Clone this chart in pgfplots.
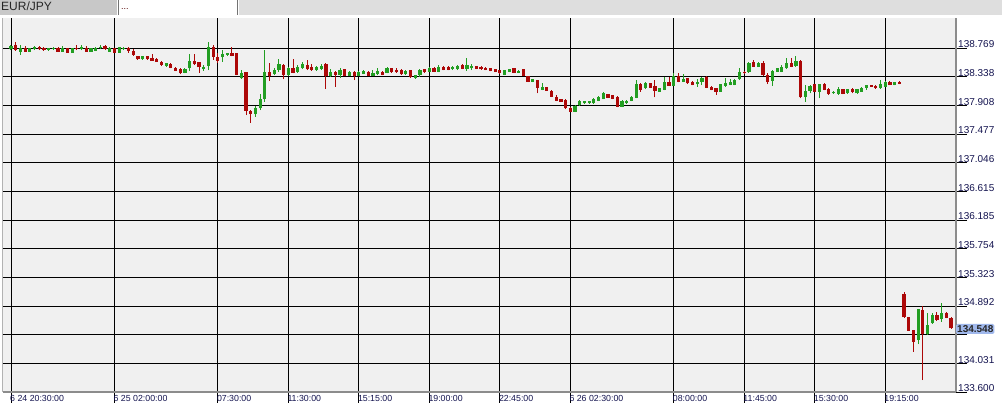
\documentclass[border=0pt]{standalone}
\usepackage{fontspec}
\setmainfont{Liberation Sans}
\usepackage{pgfplots}
\usepackage{pgfplotstable}
\pgfplotsset{compat=1.18}
\definecolor{bgc}{RGB}{240,240,240}
\definecolor{upc}{RGB}{34,158,34}
\definecolor{dnc}{RGB}{172,8,8}
\definecolor{lblc}{RGB}{20,20,80}
\definecolor{tabg}{RGB}{200,200,200}
\definecolor{tabr}{RGB}{222,222,222}
\definecolor{hl}{RGB}{160,184,236}

\pgfplotstableread{
x o h l c
0 138.749 138.814 138.739 138.804
2 138.714 138.814 138.664 138.764
4 138.714 138.774 138.709 138.764
5 138.749 138.804 138.739 138.779
8 138.739 138.774 138.729 138.764
9 138.749 138.789 138.739 138.774
11 138.714 138.804 138.709 138.774
13 138.699 138.774 138.694 138.764
15 138.749 138.814 138.739 138.789
17 138.714 138.774 138.709 138.764
18 138.729 138.789 138.724 138.774
19 138.764 138.814 138.749 138.789
21 138.714 138.789 138.709 138.764
23 138.699 138.789 138.694 138.779
24 138.749 138.789 138.739 138.774
28 138.599 138.654 138.594 138.649
33 138.498 138.544 138.488 138.539
37 138.398 138.463 138.388 138.453
38 138.463 138.674 138.428 138.574
41 138.448 138.514 138.428 138.488
42 138.503 138.854 138.438 138.789
45 138.629 138.739 138.564 138.679
46 138.664 138.699 138.654 138.689
49 138.313 138.438 138.308 138.388
52 137.777 137.897 137.737 137.872
53 137.862 138.077 137.837 138.002
54 137.997 138.739 137.962 138.413
56 138.378 138.463 138.363 138.438
57 138.438 138.599 138.413 138.524
59 138.363 138.478 138.353 138.473
61 138.413 138.514 138.398 138.488
62 138.463 138.564 138.448 138.524
65 138.438 138.498 138.428 138.488
66 138.448 138.524 138.438 138.503
68 138.348 138.448 138.338 138.413
70 138.363 138.463 138.323 138.438
72 138.348 138.423 138.343 138.413
74 138.353 138.428 138.348 138.413
75 138.378 138.438 138.373 138.428
77 138.353 138.438 138.348 138.398
78 138.373 138.463 138.363 138.423
80 138.398 138.488 138.388 138.473
84 138.373 138.438 138.368 138.428
86 138.313 138.368 138.308 138.363
87 138.363 138.453 138.338 138.438
89 138.413 138.478 138.408 138.473
91 138.413 138.514 138.408 138.488
94 138.448 138.498 138.438 138.488
95 138.448 138.513 138.438 138.498
97 138.453 138.614 138.428 138.513
98 138.463 138.528 138.438 138.498
105 138.363 138.443 138.358 138.438
106 138.413 138.458 138.408 138.453
108 138.398 138.433 138.393 138.428
111 138.263 138.303 138.258 138.298
113 138.138 138.238 138.133 138.188
120 137.812 137.907 137.807 137.902
121 137.912 137.987 137.897 137.972
122 137.937 137.977 137.932 137.972
123 137.937 137.977 137.932 137.972
124 137.937 138.012 137.932 137.997
125 137.977 138.042 137.972 138.037
126 138.002 138.103 137.997 138.088
130 137.887 137.982 137.882 137.977
131 137.937 137.982 137.932 137.977
132 137.972 138.042 137.967 138.037
133 138.022 138.288 138.012 138.223
135 138.163 138.263 138.148 138.238
138 138.113 138.168 138.108 138.163
139 138.138 138.338 138.133 138.263
141 138.203 138.388 138.198 138.348
143 138.263 138.373 138.258 138.303
146 138.223 138.298 138.188 138.263
147 138.263 138.338 138.213 138.323
151 138.113 138.228 138.108 138.223
152 138.203 138.313 138.188 138.238
153 138.213 138.298 138.208 138.253
154 138.213 138.303 138.208 138.288
155 138.298 138.463 138.288 138.413
157 138.403 138.563 138.398 138.548
159 138.488 138.553 138.483 138.548
162 138.278 138.438 138.203 138.423
163 138.413 138.468 138.408 138.463
164 138.413 138.513 138.408 138.488
165 138.463 138.614 138.453 138.548
167 138.498 138.649 138.488 138.578
169 138.027 138.213 137.962 138.128
170 138.128 138.213 138.088 138.203
172 138.113 138.228 138.012 138.223
175 138.088 138.118 138.083 138.113
176 138.078 138.188 138.063 138.148
178 138.088 138.153 138.083 138.148
180 138.088 138.153 138.083 138.148
181 138.113 138.178 138.108 138.173
182 138.173 138.218 138.138 138.213
185 138.163 138.288 138.158 138.223
186 138.188 138.268 138.183 138.263
188 138.213 138.258 138.208 138.253
193 134.381 134.852 134.321 134.842
195 134.472 134.782 134.457 134.607
196 134.632 134.782 134.622 134.757
198 134.692 134.942 134.657 134.792
}\upT

\pgfplotstableread{
x o h l c
1 138.814 138.854 138.729 138.739
3 138.764 138.799 138.709 138.714
6 138.789 138.799 138.739 138.749
7 138.774 138.789 138.729 138.739
10 138.764 138.789 138.709 138.714
12 138.764 138.774 138.694 138.699
14 138.774 138.814 138.739 138.749
16 138.774 138.799 138.709 138.714
20 138.804 138.814 138.739 138.749
22 138.764 138.774 138.694 138.699
25 138.774 138.779 138.699 138.729
26 138.729 138.749 138.649 138.664
27 138.649 138.654 138.594 138.599
29 138.649 138.654 138.594 138.599
30 138.614 138.679 138.574 138.579
31 138.604 138.614 138.559 138.564
32 138.564 138.569 138.498 138.514
34 138.524 138.539 138.463 138.473
35 138.473 138.478 138.423 138.428
36 138.453 138.463 138.378 138.388
39 138.574 138.679 138.514 138.524
40 138.554 138.564 138.398 138.478
43 138.789 138.814 138.589 138.639
44 138.639 138.689 138.539 138.574
47 138.689 138.789 138.644 138.649
48 138.689 138.694 138.358 138.363
50 138.403 138.413 137.762 137.827
51 137.827 137.837 137.647 137.777
55 138.413 138.548 138.278 138.353
58 138.514 138.528 138.298 138.363
60 138.473 138.604 138.388 138.398
63 138.514 138.589 138.438 138.448
64 138.488 138.524 138.428 138.438
67 138.524 138.539 138.153 138.353
69 138.413 138.418 138.188 138.363
71 138.448 138.453 138.343 138.348
73 138.413 138.418 138.288 138.348
76 138.413 138.423 138.348 138.353
79 138.413 138.423 138.358 138.363
81 138.463 138.473 138.398 138.403
82 138.438 138.463 138.398 138.403
83 138.438 138.448 138.368 138.373
85 138.438 138.443 138.323 138.328
88 138.448 138.453 138.398 138.403
90 138.473 138.478 138.408 138.413
92 138.488 138.493 138.433 138.438
93 138.488 138.493 138.433 138.438
96 138.513 138.523 138.448 138.453
99 138.498 138.503 138.448 138.453
100 138.488 138.493 138.443 138.448
101 138.473 138.478 138.433 138.438
102 138.463 138.468 138.418 138.423
103 138.453 138.458 138.408 138.413
104 138.438 138.443 138.383 138.388
107 138.463 138.468 138.393 138.398
109 138.448 138.453 138.348 138.353
110 138.348 138.353 138.258 138.263
112 138.288 138.293 138.088 138.173
114 138.178 138.183 138.123 138.128
115 138.128 138.133 138.032 138.037
116 138.037 138.063 137.972 137.977
117 138.002 138.007 137.957 137.962
118 137.987 138.002 137.852 137.862
119 137.872 137.877 137.807 137.812
127 138.073 138.078 138.017 138.022
128 138.063 138.068 137.997 138.002
129 138.037 138.042 137.877 137.887
134 138.223 138.248 138.113 138.138
136 138.238 138.243 138.168 138.173
137 138.203 138.288 138.027 138.123
140 138.263 138.338 138.198 138.203
142 138.348 138.388 138.253 138.263
144 138.313 138.318 138.233 138.238
145 138.263 138.268 138.208 138.213
148 138.338 138.348 138.168 138.173
149 138.188 138.193 138.133 138.138
150 138.163 138.168 138.063 138.113
156 138.413 138.418 138.383 138.388
158 138.563 138.589 138.483 138.488
160 138.548 138.573 138.353 138.363
161 138.363 138.388 138.228 138.263
166 138.548 138.614 138.483 138.488
168 138.578 138.583 138.012 138.027
171 138.223 138.228 138.108 138.113
173 138.223 138.238 138.133 138.138
174 138.148 138.163 138.063 138.078
177 138.148 138.153 138.073 138.078
179 138.148 138.163 138.088 138.113
183 138.213 138.218 138.183 138.188
184 138.203 138.208 138.158 138.163
187 138.263 138.268 138.208 138.213
189 138.263 138.268 138.223 138.228
190 135.073 135.108 134.717 134.722
191 134.722 134.727 134.517 134.522
192 134.532 134.537 134.206 134.356
194 134.832 134.897 133.780 134.472
197 134.757 134.807 134.672 134.682
199 134.792 134.807 134.707 134.717
200 134.717 134.722 134.552 134.557
}\dnT

\begin{document}
\begin{tikzpicture}[x=1pt,y=1pt]
\fill[white] (0,0) rectangle (1002,414);
\useasboundingbox (0,0) rectangle (1002,414);
% tab bar
\fill[tabg] (0,399) rectangle (117,414);
\fill[white] (119,399) rectangle (236,414);
\fill[tabr] (239,399) rectangle (1002,414);
\draw[black!55, line width=1pt] (118,399) -- (118,414);
\draw[black!55, line width=1pt] (237.5,399) -- (237.5,414);
\node[anchor=base west, inner sep=0pt, font=\fontsize{12}{14}\selectfont, text=black!85] at (1,403) {EUR/JPY};
\node[anchor=base west, inner sep=0pt, font=\fontsize{9}{10}\selectfont, text=dnc!50!black] at (121,404) {...};

\begin{axis}[
  at={(3pt,22pt)}, anchor=south west,
  width=953pt, height=374pt, scale only axis,
  xmin=-1.702, xmax=201.06, ymin=133.6, ymax=139.22,
  axis x line*=bottom, axis y line*=right,
  axis background/.style={fill=bgc},
  axis line style={draw=black!45, line width=1.6pt},
  grid=major, major grid style={black, line width=0.9pt},
  tick align=outside, major tick length=11pt,
  tick style={black, line width=0.9pt},
  xtick={0,22,44,59,74,89,104,119,141,156,171,186},
  xticklabels={6 24 20:30:00, 6 25 02:00:00, 07:30:00, 11:30:00, 15:15:00, 19:00:00, 22:45:00, 6 26 02:30:00, 08:00:00, 11:45:00, 15:30:00, 19:15:00},
  ytick={133.600,134.031,134.461,134.892,135.323,135.754,136.185,136.615,137.046,137.477,137.908,138.338,138.769},
  yticklabels={133.600,134.031,,134.892,135.323,135.754,136.185,136.615,137.046,137.477,137.908,138.338,138.769},
  xticklabel style={anchor=north west, inner sep=0pt, font=\fontsize{8.8}{10}\selectfont, text=lblc, yshift=8pt, xshift=-1pt},
  yticklabel style={anchor=south west, inner sep=0pt, font=\fontsize{10}{12}\selectfont, text=lblc, xshift=-9pt},
  clip=false,
]
% wicks
\addplot[draw=none, mark=none, forget plot,
  error bars/.cd, y dir=plus, y explicit, error mark=none,
  error bar style={draw=upc, line width=1pt}]
  table[x=x, y=l, y error plus expr=\thisrow{h}-\thisrow{l}] {\upT};
\addplot[draw=none, mark=none, forget plot,
  error bars/.cd, y dir=plus, y explicit, error mark=none,
  error bar style={draw=dnc, line width=1pt}]
  table[x=x, y=l, y error plus expr=\thisrow{h}-\thisrow{l}] {\dnT};
% bodies
\addplot[draw=none, mark=none, forget plot,
  error bars/.cd, y dir=plus, y explicit, error mark=none,
  error bar style={draw=upc, line width=3.2pt}]
  table[x=x, y=o, y error plus expr={max(\thisrow{c}-\thisrow{o},0.012)}] {\upT};
\addplot[draw=none, mark=none, forget plot,
  error bars/.cd, y dir=plus, y explicit, error mark=none,
  error bar style={draw=dnc, line width=3.2pt}]
  table[x=x, y=c, y error plus expr={max(\thisrow{o}-\thisrow{c},0.012)}] {\dnT};
\node[fill=hl, rounded corners=1.5pt, inner xsep=1pt, inner ysep=1.5pt, anchor=west,
  font=\fontsize{10}{12}\selectfont\bfseries, text=black!85] at (axis cs:201.06,134.548) {134.548};
\end{axis}
\draw[black!30, line width=0.8pt] (2.6,22) -- (2.6,396);
\end{tikzpicture}
\end{document}
